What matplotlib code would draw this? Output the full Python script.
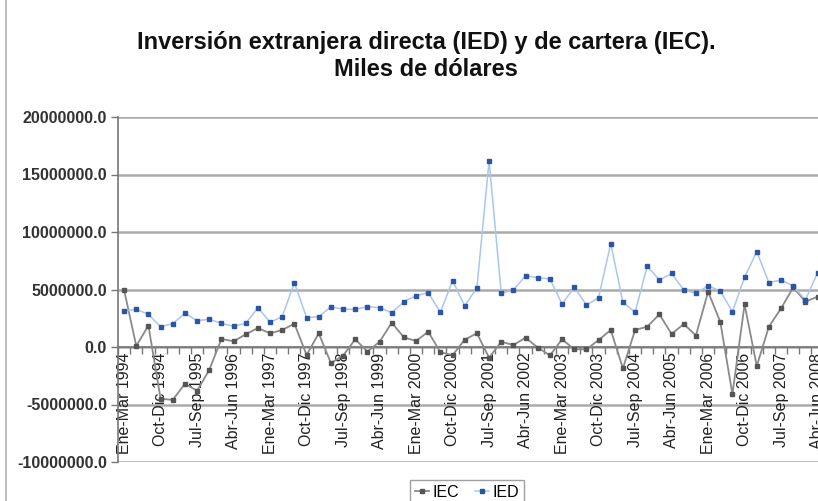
import matplotlib
matplotlib.use("Agg")
import matplotlib.pyplot as plt
from matplotlib.ticker import FixedLocator, FuncFormatter
from matplotlib.lines import Line2D

plt.rcParams['font.family'] = ['Liberation Sans', 'DejaVu Sans']

# ---- data (thousands of USD), quarterly from Ene-Mar 1994 ----
quarters = ["Ene-Mar", "Abr-Jun", "Jul-Sep", "Oct-Dic"]
years = list(range(1994, 2009))
categories = [f"{q} {y}" for y in years for q in quarters][:58]

ied = [3130000, 3280000, 2840000, 1770000, 2030000, 2930000, 2290000, 2410000,
       2060000, 1800000, 2060000, 3420000, 2150000, 2640000, 5600000, 2550000,
       2640000, 3500000, 3280000, 3280000, 3500000, 3420000, 2980000, 3940000,
       4460000, 4720000, 3020000, 5770000, 3570000, 5160000, 16200000, 4670000,
       4960000, 6200000, 6030000, 5910000, 3740000, 5190000, 3650000, 4290000,
       9000000, 3880000, 3020000, 7040000, 5830000, 6400000, 4960000, 4670000,
       5330000, 4870000, 3070000, 6060000, 8290000, 5600000, 5830000, 5300000,
       4090000, 6460000]

iec = [4960000, 100000, 1860000, -4500000, -4600000, -3200000, -3800000, -2000000,
       700000, 500000, 1100000, 1650000, 1190000, 1480000, 2030000, -700000,
       1190000, -1400000, -750000, 670000, -400000, 460000, 2110000, 840000,
       520000, 1330000, -460000, -700000, 640000, 1190000, -930000, 460000,
       170000, 810000, -50000, -730000, 670000, -200000, -200000, 600000,
       1480000, -1860000, 1480000, 1770000, 2840000, 1130000, 2000000, 1000000,
       4800000, 2200000, -4100000, 3700000, -1650000, 1770000, 3360000, 5190000,
       3940000, 4380000]

yticks = [-10000000, -5000000, 0, 5000000, 10000000, 15000000, 20000000]

fig = plt.figure(figsize=(8.18, 5.01), dpi=100)
ax = fig.add_axes([118/818, 1 - 462/501, 730/818, (462 - 117)/501])

# spine placement first (it resets tick properties)
ax.spines['bottom'].set_position(('data', 0))
ax.spines['bottom'].set_color('#777777')
ax.spines['bottom'].set_linewidth(1.2)
ax.spines['left'].set_color('#777777')
ax.spines['left'].set_linewidth(1.2)
ax.spines['top'].set_visible(False)
ax.spines['right'].set_visible(False)

x = list(range(len(categories)))
ax.plot(x, iec, color='#8a8a8a', lw=1.3, marker='s', ms=2.2,
        mfc='#555555', mec='#555555', zorder=3, label='IEC')
ax.plot(x, ied, color='#a9c6ee', lw=1.1, marker='s', ms=2.4,
        mfc='#2d55a5', mec='#2d55a5', zorder=4, label='IED')

ax.set_xlim(-0.5, 59.5)
ax.set_ylim(-10000000, 20000000)
ax.set_yticks(yticks)
ax.yaxis.set_major_formatter(FuncFormatter(lambda v, p: f"{v:.1f}"))
for t in yticks:
    ax.axhline(t, color='#aaaaaa', lw=1.8, zorder=1)

ax.tick_params(axis='x', which='major', length=0, pad=4)
ax.tick_params(axis='x', which='minor', length=5, width=1, color='#777777', direction='out')
ax.tick_params(axis='y', length=5, width=1, color='#777777', labelsize=11.5,
               labelcolor='#333333', pad=3)
ax.set_xticks(x[::3])
ax.set_xticklabels(categories[::3], rotation=90, va='top', ha='center',
                   fontsize=11.5, color='#222222')
ax.xaxis.set_minor_locator(FixedLocator([i + 0.5 for i in range(-1, len(categories) + 2)]))
for lab in ax.get_yticklabels():
    lab.set_fontweight('bold')

fig.text(426/818, 1 - 43/501, "Inversión extranjera directa (IED) y de cartera (IEC).",
         ha='center', va='center', fontsize=17, fontweight='bold', color='#111111')
fig.text(426/818, 1 - 70/501, "Miles de dólares",
         ha='center', va='center', fontsize=17, fontweight='bold', color='#111111')

# outer chart border (left edge)
fig.add_artist(Line2D([6/818, 6/818], [0, 1], transform=fig.transFigure,
                      color='#b0b0b0', lw=1.2))

leg = fig.legend(loc='upper center', bbox_to_anchor=(467/818, 1 - 472/501), ncol=2,
                 frameon=True, fancybox=False, edgecolor='#888888', fontsize=11.5,
                 handlelength=0.9, handletextpad=0.2, columnspacing=1.0,
                 borderpad=0.3, markerscale=1.0)
leg.get_frame().set_linewidth(1.0)

fig.savefig("out.png", dpi=100)
